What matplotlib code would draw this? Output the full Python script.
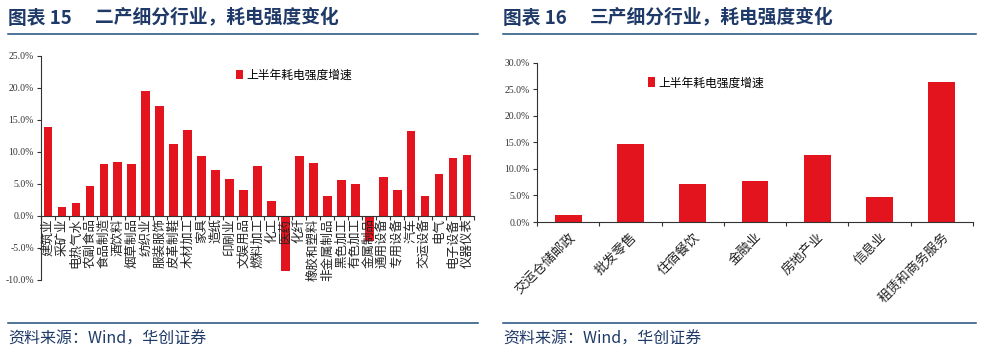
import matplotlib
matplotlib.use("Agg")
import matplotlib.pyplot as plt
from matplotlib.lines import Line2D
from matplotlib.ticker import FuncFormatter, FixedLocator

plt.rcParams['font.family'] = ['Noto Sans CJK SC', 'DejaVu Sans']

# 二产细分行业
ind2 = ['建筑业', '采矿业', '电热气水', '农副食品', '食品制造', '酒饮料', '烟草制品', '纺织业',
        '服装服饰', '皮革制鞋', '木材加工', '家具', '造纸', '印刷业', '文娱用品', '燃料加工',
        '化工', '医药', '化纤', '橡胶和塑料', '非金属制品', '黑色加工', '有色加工', '金属制品',
        '通用设备', '专用设备', '汽车', '交运设备', '电气', '电子设备', '仪器仪表']
val2 = [13.8, 1.4, 2.0, 4.6, 8.1, 8.4, 8.1, 19.4,
        17.1, 11.1, 13.4, 9.3, 7.1, 5.7, 4.0, 7.7,
        2.3, -8.6, 9.3, 8.2, 3.0, 5.6, 4.9, -4.0,
        6.0, 4.0, 13.2, 3.0, 6.5, 9.0, 9.5]

# 三产细分行业
ind3 = ['交运仓储邮政', '批发零售', '住宿餐饮', '金融业', '房地产业', '信息业', '租赁和商务服务']
val3 = [1.4, 14.7, 7.1, 7.7, 12.7, 4.8, 26.3]

legend_label = '上半年耗电强度增速'
titles = [('图表 15', '二产细分行业，耗电强度变化'), ('图表 16', '三产细分行业，耗电强度变化')]
source = '资料来源：Wind，华创证券'

red = '#E3141D'
navy = '#1F3A68'
line_c = '#1F4E79'
W, H = 988, 352

fig = plt.figure(figsize=(W / 100, H / 100), dpi=100)
pct = FuncFormatter(lambda v, p: '%.1f%%' % v)


def style_axes(ax, n):
    for s in ['top', 'right']:
        ax.spines[s].set_visible(False)
    ax.spines['bottom'].set_position(('data', 0))
    for s in ['left', 'bottom']:
        ax.spines[s].set_linewidth(0.8)
        ax.spines[s].set_color('#333333')
    ax.yaxis.set_major_formatter(pct)
    ax.tick_params(axis='y', length=3, width=0.8, labelsize=7, pad=2, colors='#333333')
    for t in ax.get_yticklabels():
        t.set_family('Liberation Serif')
    ax.xaxis.set_minor_locator(FixedLocator([i - 0.5 for i in range(n + 1)]))
    ax.tick_params(axis='x', which='minor', length=3, width=0.8, color='#333333')
    ax.tick_params(axis='x', which='major', length=0)
    ax.set_xlim(-0.5, n - 0.5)


# left chart
ax1 = fig.add_axes([41 / W, 1 - 279.5 / H, 433 / W, 224 / H])
ax1.bar(range(len(ind2)), val2, width=0.62, color=red, label=legend_label)
ax1.set_ylim(-10, 25)
ax1.set_yticks(range(-10, 26, 5))
style_axes(ax1, len(ind2))
ax1.set_xticks(range(len(ind2)))
ax1.set_xticklabels(ind2, rotation=90, fontsize=9, va='top', ha='center', color='#222222')
ax1.tick_params(axis='x', which='major', pad=2)
ax1.legend(loc='center left', bbox_to_anchor=(0.45, 0.913), frameon=False, fontsize=8.5,
           handlelength=0.6, handleheight=0.9, handletextpad=0.3, borderpad=0, borderaxespad=0)

# right chart
ax2 = fig.add_axes([537 / W, 1 - 222 / H, 436 / W, 159.3 / H])
ax2.bar(range(len(ind3)), val3, width=0.43, color=red, label=legend_label)
ax2.set_ylim(0, 30)
ax2.set_yticks(range(0, 31, 5))
style_axes(ax2, len(ind3))
ax2.set_xticks(range(len(ind3)))
ax2.set_xticklabels(ind3, rotation=45, fontsize=9.5, ha='right', va='top',
                    rotation_mode='anchor', color='#222222')
ax2.tick_params(axis='x', which='major', pad=6)
ax2.legend(loc='center left', bbox_to_anchor=(0.255, 0.873), frameon=False, fontsize=8.5,
           handlelength=0.6, handleheight=0.9, handletextpad=0.3, borderpad=0, borderaxespad=0)

# headers, rules and sources
for (num, title), x0, x1 in zip(titles, [8, 503], [478, 976]):
    fig.text(x0 / W, 1 - 18 / H, num, fontsize=13.5, fontweight='bold', color=navy, va='center')
    fig.text((x0 + 87) / W, 1 - 18 / H, title, fontsize=13.5, fontweight='bold', color=navy, va='center')
    fig.add_artist(Line2D([x0 / W, x1 / W], [1 - 34 / H] * 2, color=line_c, lw=1.1))
    fig.add_artist(Line2D([x0 / W, x1 / W], [1 - 323 / H] * 2, color=line_c, lw=1.1))
    fig.text(x0 / W, 1 - 339 / H, source, fontsize=11.5, style='italic', color=navy, va='center')

fig.savefig('out.png', dpi=100)
